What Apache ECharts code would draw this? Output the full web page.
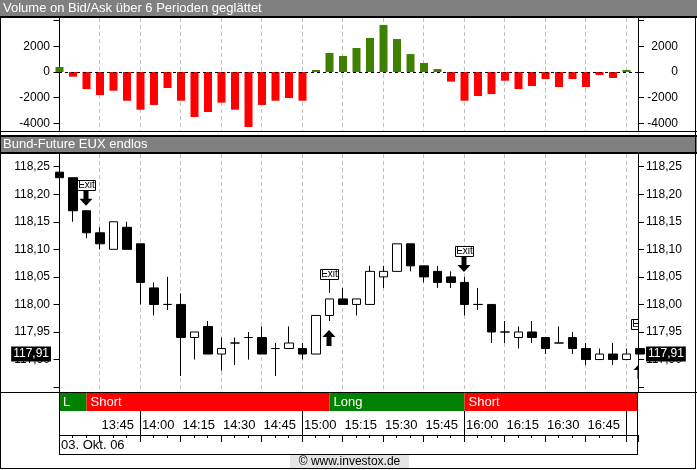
<!DOCTYPE html>
<html>
<head>
<meta charset="utf-8">
<script src="https://cdn.jsdelivr.net/npm/echarts@6/dist/echarts.min.js"></script>
<style>html,body{margin:0;padding:0;background:#fff;}#c{width:697px;height:470px;}</style>
</head>
<body>
<div id="c"></div>
<script>
// ---------- data ----------
const candleTimes = ['13:30','13:35','13:40','13:45','13:50','13:55','14:00','14:05','14:10','14:15','14:20','14:25','14:30','14:35','14:40','14:45','14:50','14:55','15:00','15:05','15:10','15:15','15:20','15:25','15:30','15:35','15:40','15:45','15:50','15:55','16:00','16:05','16:10','16:15','16:20','16:25','16:30','16:35','16:40','16:45','16:50','16:55','17:00','17:05'];
const openP  = [118.24,118.23,118.17,118.13,118.10,118.14,118.11,118.03,118.00,118.00,117.94,117.96,117.91,117.93,117.94,117.94,117.92,117.92,117.92,117.91,117.98,118.01,118.00,118.00,118.05,118.06,118.11,118.07,118.06,118.05,118.04,118.00,118.00,117.95,117.94,117.95,117.94,117.93,117.94,117.92,117.90,117.91,117.90,117.92];
const closeP = [118.23,118.17,118.13,118.11,118.15,118.10,118.04,118.00,118.00,117.94,117.95,117.91,117.92,117.93,117.94,117.91,117.92,117.93,117.91,117.98,118.01,118.00,118.01,118.06,118.06,118.11,118.07,118.05,118.04,118.04,118.00,118.00,117.95,117.95,117.95,117.94,117.92,117.93,117.92,117.90,117.91,117.90,117.91,117.91];
const lowP   = [118.23,118.15,118.12,118.10,118.10,118.10,118.00,117.98,117.99,117.87,117.90,117.91,117.88,117.89,117.90,117.91,117.87,117.92,117.90,117.91,117.97,118.00,117.98,118.00,118.03,118.06,118.06,118.04,118.03,118.03,117.98,117.99,117.93,117.93,117.92,117.93,117.91,117.93,117.91,117.89,117.90,117.89,117.90,117.91];
const highP  = [118.24,118.23,118.17,118.14,118.15,118.15,118.11,118.04,118.05,118.02,117.95,117.97,117.94,117.94,117.95,117.96,117.93,117.96,117.93,117.98,118.01,118.03,118.01,118.07,118.07,118.11,118.11,118.07,118.07,118.06,118.05,118.03,118.00,117.97,117.96,117.97,117.94,117.96,117.95,117.93,117.92,117.93,117.92,117.92];
const volumeBA = [390,-365,-1330,-1800,-1460,-2240,-2940,-2570,-1250,-2240,-3510,-3120,-2390,-2940,-4290,-2570,-2240,-2030,-2240,160,1480,1250,1870,2650,3670,2570,1400,700,230,-750,-2240,-1870,-1720,-680,-1330,-1090,-550,-1170,-550,-1170,-230,-470,160,null];

const volTickValues = [-4000,-2000,0,2000,4000];
const volLabelValues = [-4000,-2000,0,2000];
const priceTickValues = [117.85,117.90,117.95,118.00,118.05,118.10,118.15,118.20,118.25];
const priceLabelValues = [117.90,117.95,118.00,118.05,118.10,118.15,118.20,118.25];
const timeTickLabels = ['13:45','14:00','14:15','14:30','14:45','15:00','15:15','15:30','15:45','16:00','16:15','16:30','16:45'];
const hourTimes = ['14:00','15:00','16:00','17:00'];

// position strip (L / Short / Long / Short)
const stripLabel = ['L','Short','Long','Short'];
const stripSide  = ['long','short','long','short'];
const stripStart = ['13:25','13:40','15:10','16:00'];
const stripEnd   = ['13:40','15:10','16:00','17:10'];

// signals
const signalTime = ['13:40','15:10','16:00','17:05'];
const signalSide = ['short','long','short','long'];

const lastPrice = 117.91;
const lastPriceLabel = '117,91';
const dateLabel = '03. Okt. 06';

// ---------- helpers ----------
function tIdx(t){
  const i = candleTimes.indexOf(t);
  if (i >= 0) return i;
  const [h,m] = t.split(':').map(Number);
  return ((h*60+m) - (13*60+30)) / 5;
}
const FONT = 'Liberation Sans, Arial, sans-serif';
const X_MIN = -0.037, X_MAX = 42.852;
const GL = 59, GW = 579;

const candleData = candleTimes.map((t,i)=>[i, openP[i], closeP[i], lowP[i], highP[i]]);
const volData = candleTimes.map((t,i)=>[i, volumeBA[i]]);
const stripData = stripLabel.map((l,i)=>[tIdx(stripStart[i]), tIdx(stripEnd[i]), i]);
const hourData = hourTimes.map(t=>[tIdx(t), 0]);
const sigData = signalTime.map((t,k)=>{const i=tIdx(t); return [i, highP[i], lowP[i], k];});

const fmtPrice = v => v.toFixed(2).replace('.', ',');
const fmtVol = v => String(Math.round(v));

const xBase = (gi, extra) => Object.assign({
  gridIndex: gi, type: 'value', min: X_MIN, max: X_MAX, interval: 3,
  axisLine: {show:false}, axisTick: {show:false}, axisLabel: {show:false},
  splitLine: {show:false}
}, extra || {});

const gridSplit = {show:true, lineStyle:{color:'#c0c0c0', type:[4,3], width:1}};

const chart = echarts.init(document.getElementById('c'), null, {renderer:'canvas', width:697, height:470});

const priceTag = (pos) => ({show:true, position:pos, distance:8, formatter:lastPriceLabel, color:'#fff',
  backgroundColor:'#000', padding:[2,2,1,2], fontSize:12, fontFamily:FONT, opacity:1});

const option = {
  animation: false,
  backgroundColor: '#fff',
  grid: [
    {left: GL, top: 18, width: GW, height: 113},
    {left: GL, top: 154, width: GW, height: 238},
    {left: GL, top: 393, width: GW, height: 18},
    {left: GL, top: 411, width: GW, height: 24}
  ],
  xAxis: [
    xBase(0, {splitLine: gridSplit}),
    xBase(1, {splitLine: gridSplit}),
    xBase(2),
    xBase(3, {
      position: 'top',
      axisTick: {show:true, inside:true, length:7, lineStyle:{color:'#000'}},
      minorTick: {show:true, splitNumber:3, length:3, lineStyle:{color:'#000'}},
      axisLabel: {show:true, inside:true, margin:14, align:'left', verticalAlign:'middle', padding:[0,0,0,2],
        color:'#000', fontSize:13, fontFamily:FONT,
        formatter: v => { const t = candleTimes[Math.round(v)]; return timeTickLabels.indexOf(t) >= 0 ? t : ''; }}
    })
  ],
  yAxis: [
    {gridIndex:0, type:'value', min:-4600, max:4210, position:'left',
     axisLine:{show:true, lineStyle:{color:'#000'}},
     axisTick:{show:true, length:6, customValues:volTickValues, lineStyle:{color:'#000'}},
     axisLabel:{customValues:volLabelValues, formatter:fmtVol, color:'#000', fontSize:12, fontFamily:FONT, margin:9},
     splitLine:{show:false}},
    {gridIndex:0, type:'value', min:-4600, max:4210, position:'right',
     axisLine:{show:true, lineStyle:{color:'#000'}},
     axisTick:{show:true, length:6, customValues:volTickValues, lineStyle:{color:'#000'}},
     axisLabel:{customValues:volLabelValues, formatter:fmtVol, color:'#000', fontSize:12, fontFamily:FONT, margin:40, align:'right'},
     splitLine:{show:false}},
    {gridIndex:1, type:'value', min:117.8411, max:118.273, position:'left',
     axisLine:{show:true, lineStyle:{color:'#000'}},
     axisTick:{show:true, length:6, customValues:priceTickValues, lineStyle:{color:'#000'}},
     axisLabel:{customValues:priceLabelValues, formatter:fmtPrice, color:'#000', fontSize:12, fontFamily:FONT, margin:9},
     splitLine:{show:false}},
    {gridIndex:1, type:'value', min:117.8411, max:118.273, position:'right',
     axisLine:{show:true, lineStyle:{color:'#000'}},
     axisTick:{show:true, length:6, customValues:priceTickValues, lineStyle:{color:'#000'}},
     axisLabel:{customValues:priceLabelValues, formatter:fmtPrice, color:'#000', fontSize:12, fontFamily:FONT, margin:8},
     splitLine:{show:false}},
    {gridIndex:2, type:'value', min:0, max:1, show:false},
    {gridIndex:3, type:'value', min:0, max:1, show:false}
  ],
  series: [
    {
      type:'bar', xAxisIndex:0, yAxisIndex:0, data: volData, barWidth: 8,
      itemStyle: {color: p => (p.value[1] >= 0 ? '#408000' : '#ff0000')},
      markLine: {symbol:'none', silent:true, label:{show:false},
        lineStyle:{color:'#000', type:[3,3], width:1}, data:[{yAxis:0}]}
    },
    {
      type:'candlestick', xAxisIndex:1, yAxisIndex:2, data: candleData, barWidth: 9, clip: true,
      itemStyle: {color:'#fff', color0:'#000', borderColor:'#000', borderColor0:'#000', borderColorDoji:'#000', borderWidth:1},
      markLine: {symbol:'none', silent:true, z:10,
        lineStyle:{color:'rgba(0,0,0,0)', width:0},
        data:[
          {yAxis:lastPrice, label:priceTag('start')},
          {yAxis:lastPrice, label:priceTag('end')}
        ]}
    },
    {
      type:'custom', xAxisIndex:1, yAxisIndex:2, data: sigData, clip: true, z: 5,
      renderItem: function(params, api){
        const k = api.value(3);
        const pHi = api.coord([api.value(0), api.value(1)]);
        const pLo = api.coord([api.value(0), api.value(2)]);
        const x = Math.round(pHi[0]);
        const ch = [];
        let boxBottom;
        if (signalSide[k] === 'short') {
          const tip = pHi[1] - 5, top = tip - 16, neck = tip - 7;
          ch.push({type:'polygon', shape:{points:[[x-2.5,top],[x+2.5,top],[x+2.5,neck],[x+6.5,neck],[x,tip],[x-6.5,neck],[x-2.5,neck]]}, style:{fill:'#000'}});
          boxBottom = top;
        } else {
          const stemBottom = pHi[1] - 6;
          boxBottom = stemBottom - 14;
          ch.push({type:'line', shape:{x1:x+0.5, y1:boxBottom, x2:x+0.5, y2:stemBottom}, style:{stroke:'#000', lineWidth:1}});
          const tip = pLo[1] + 9, bot = tip + 16, neck = tip + 7;
          ch.push({type:'polygon', shape:{points:[[x-2.5,bot],[x+2.5,bot],[x+2.5,neck],[x+6.5,neck],[x,tip],[x-6.5,neck],[x-2.5,neck]]}, style:{fill:'#000'}});
        }
        ch.push({type:'rect', shape:{x:x-9+0.5, y:Math.round(boxBottom)-10+0.5, width:18, height:10}, style:{fill:'#fff', stroke:'#000', lineWidth:1}});
        ch.push({type:'text', style:{text:'Exit', x:x+0.5, y:Math.round(boxBottom)-4.5, align:'center', verticalAlign:'middle', fill:'#000', font:'10px ' + FONT}});
        return {type:'group', children: ch};
      }
    },
    {
      type:'custom', xAxisIndex:2, yAxisIndex:4, data: stripData, clip: true,
      renderItem: function(params, api){
        const i = api.value(2);
        const cs = params.coordSys;
        const x0 = Math.max(api.coord([api.value(0),0])[0], cs.x);
        const x1 = Math.min(api.coord([api.value(1),0])[0], cs.x + cs.width);
        return {type:'group', children:[
          {type:'rect', shape:{x:x0, y:cs.y, width:x1-x0, height:cs.height}, style:{fill: stripSide[i]==='long' ? '#008000' : '#ff0000'}},
          {type:'text', style:{text: stripLabel[i], x: x0+4, y: cs.y + cs.height/2 + 0.5, verticalAlign:'middle', fill:'#fff', font:'13px ' + FONT}}
        ]};
      }
    },
    {
      type:'custom', xAxisIndex:3, yAxisIndex:5, data: hourData, clip: true,
      renderItem: function(params, api){
        const cs = params.coordSys;
        const x = Math.round(api.coord([api.value(0),0])[0]) + 0.5;
        return {type:'line', shape:{x1:x, y1:cs.y, x2:x, y2:cs.y+cs.height}, style:{stroke:'#000', lineWidth:1}};
      }
    }
  ],
  graphic: [
    {type:'rect', shape:{x:0, y:0, width:697, height:16}, style:{fill:'#808080'}, z:50},
    {type:'rect', shape:{x:0, y:16, width:697, height:2}, style:{fill:'#000'}, z:50},
    {type:'text', style:{text:'Volume on Bid/Ask über 6 Perioden geglättet', x:3, y:8.5, verticalAlign:'middle', fill:'#fff', font:'13px ' + FONT}, z:51},
    {type:'rect', shape:{x:0, y:131, width:697, height:1}, style:{fill:'#000'}, z:50},
    {type:'rect', shape:{x:0, y:135, width:697, height:2}, style:{fill:'#000'}, z:50},
    {type:'rect', shape:{x:0, y:137, width:697, height:15}, style:{fill:'#808080'}, z:50},
    {type:'rect', shape:{x:0, y:152, width:697, height:2}, style:{fill:'#000'}, z:50},
    {type:'text', style:{text:'Bund-Future EUX endlos', x:3, y:144.5, verticalAlign:'middle', fill:'#fff', font:'13px ' + FONT}, z:51},
    {type:'rect', shape:{x:0, y:392, width:697, height:1}, style:{fill:'#000'}, z:50},
    {type:'rect', shape:{x:59, y:392, width:1, height:63}, style:{fill:'#000'}, z:50},
    {type:'rect', shape:{x:637, y:392, width:1, height:63}, style:{fill:'#000'}, z:50},
    {type:'rect', shape:{x:59, y:435, width:579, height:1}, style:{fill:'#000'}, z:50},
    {type:'rect', shape:{x:59, y:454, width:579, height:1}, style:{fill:'#000'}, z:50},
    {type:'text', style:{text:dateLabel, x:61, y:445, verticalAlign:'middle', fill:'#000', font:'13px ' + FONT}, z:51},
    {type:'rect', shape:{x:290, y:455, width:119, height:13}, style:{fill:'#e4e4e4'}, z:50},
    {type:'text', style:{text:'© www.investox.de', x:349.5, y:462, align:'center', verticalAlign:'middle', fill:'#000', font:'12px ' + FONT}, z:51},
    {type:'rect', shape:{x:0, y:16, width:1, height:453}, style:{fill:'#000'}, z:50},
    {type:'rect', shape:{x:695, y:16, width:1, height:453}, style:{fill:'#000'}, z:50},
    {type:'rect', shape:{x:0, y:468, width:696, height:1}, style:{fill:'#000'}, z:50}
  ]
};
chart.setOption(option);
</script>
</body>
</html>
